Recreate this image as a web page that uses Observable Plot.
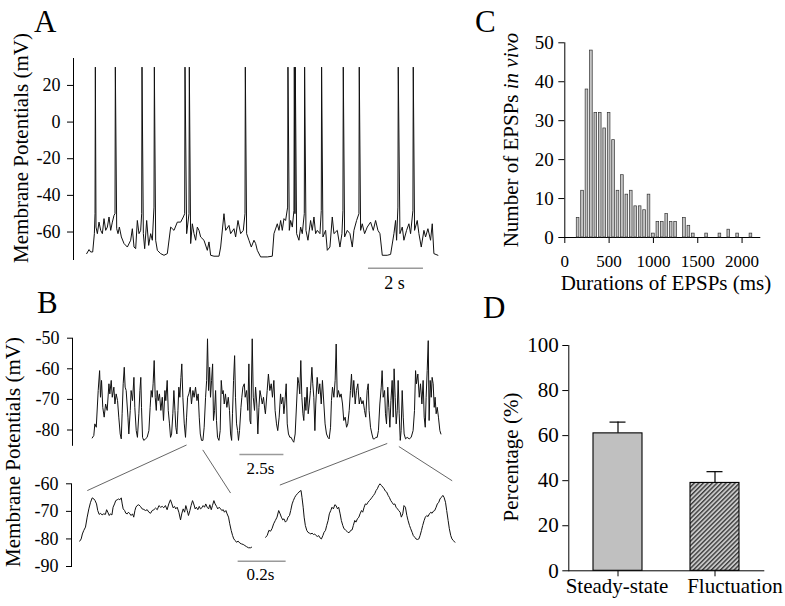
<!DOCTYPE html>
<html><head><meta charset="utf-8">
<script src="https://cdn.jsdelivr.net/npm/d3@7"></script>
<script src="https://cdn.jsdelivr.net/npm/@observablehq/plot@0.6"></script>
<style>
body{margin:0;background:#fff;}
#fig{position:relative;width:785px;height:606px;overflow:hidden;font-family:"Liberation Serif","Times New Roman",serif;}
#fig svg{position:absolute;}
</style></head><body>
<div id="fig">
<svg id="overlay" width="785" height="606" style="left:0;top:0">
<defs>
<pattern id="hatch" width="3.2" height="3.2" patternUnits="userSpaceOnUse" patternTransform="rotate(45)">
<rect width="3.2" height="3.2" fill="#c9c9c9"/>
<line x1="0.7" y1="0" x2="0.7" y2="3.2" stroke="#333" stroke-width="1.3"/>
</pattern>
</defs>
<g font-family="Liberation Serif" fill="#000">
<text x="34" y="32" font-size="31">A</text>
<text x="37" y="313" font-size="31">B</text>
<text x="475" y="32" font-size="31">C</text>
<text x="483" y="318" font-size="31">D</text>
<text transform="translate(28,148) rotate(-90)" text-anchor="middle" font-size="21">Membrane Potentials (mV)</text>
<text transform="translate(20,452) rotate(-90)" text-anchor="middle" font-size="21">Membrane Potentials (mV)</text>
<text transform="translate(518,140) rotate(-90)" text-anchor="middle" font-size="21">Number of EPSPs <tspan font-style="italic">in vivo</tspan></text>
<text x="666" y="290" text-anchor="middle" font-size="21">Durations of EPSPs (ms)</text>
<text transform="translate(518,457) rotate(-90)" text-anchor="middle" font-size="21">Percentage (%)</text>
</g>
</svg>
</div>
<script>
// ---------- Panel A: membrane potential trace [time s, mV] ----------
const traceA = [[0,-71.8],[0.085,-69.6],[0.145,-70.9],[0.218,-70.9],[0.279,-60.9],[0.303,-50.0],[0.315,30],[0.339,-57.3],[0.388,-60.9],[0.448,-54.6],[0.509,-59.1],[0.570,-60.9],[0.630,-52.7],[0.691,-59.1],[0.752,-57.3],[0.812,-51.8],[0.873,-59.1],[0.933,-54.6],[0.994,-50.9],[1.030,-50.0],[1.042,30],[1.091,-58.2],[1.139,-60.9],[1.188,-57.3],[1.261,-62.7],[1.358,-66.3],[1.479,-68.2],[1.600,-64.5],[1.661,-58.2],[1.721,-68.2],[1.782,-69.1],[1.842,-53.7],[1.903,-60.9],[1.964,-59.1],[2.000,-50.0],[2.012,30],[2.061,-60.9],[2.109,-69.1],[2.182,-53.7],[2.255,-67.3],[2.327,-60.9],[2.388,-64.5],[2.448,-46.4],[2.461,30],[2.509,-64.5],[2.570,-70.0],[2.691,-71.8],[2.812,-72.7],[2.933,-71.8],[3.055,-57.3],[3.176,-59.1],[3.297,-54.6],[3.418,-54.6],[3.515,-51.8],[3.564,-50.0],[3.576,30],[3.636,-60.9],[3.721,-50.0],[3.733,30],[3.782,-66.3],[3.842,-55.5],[3.903,-60.9],[3.964,-64.5],[4.024,-57.3],[4.085,-59.1],[4.145,-62.7],[4.267,-64.5],[4.388,-70.0],[4.448,-65.4],[4.509,-72.7],[4.630,-73.2],[4.812,-73.2],[4.873,-68.2],[4.994,-50.0],[5.055,-59.1],[5.176,-56.4],[5.236,-60.9],[5.358,-58.2],[5.418,-62.7],[5.503,-53.7],[5.600,-60.9],[5.697,-59.1],[5.758,-50.0],[5.770,30],[5.818,-60.9],[5.903,-64.5],[5.988,-68.2],[6.085,-64.5],[6.145,-66.3],[6.206,-70.0],[6.327,-73.6],[6.570,-73.6],[6.752,-73.2],[6.812,-60.9],[6.933,-55.5],[6.994,-59.1],[7.055,-53.7],[7.115,-59.1],[7.176,-52.7],[7.236,-53.7],[7.309,-46.4],[7.321,30],[7.370,-59.1],[7.418,-53.7],[7.479,-57.3],[7.539,-48.2],[7.552,30],[7.576,-50.0],[7.588,30],[7.636,-60.9],[7.721,-64.5],[7.782,-57.3],[7.842,-60.9],[7.915,-50.0],[7.927,30],[7.976,-59.1],[8.048,-64.5],[8.145,-53.7],[8.206,-59.1],[8.267,-51.8],[8.327,-60.9],[8.388,-59.1],[8.485,-60.9],[8.533,-48.2],[8.545,30],[8.594,-62.7],[8.691,-59.1],[8.752,-70.0],[8.848,-68.2],[8.933,-51.8],[8.994,-60.9],[9.115,-59.1],[9.212,-68.2],[9.285,-60.9],[9.321,-48.2],[9.333,30],[9.382,-62.7],[9.479,-59.1],[9.576,-60.9],[9.661,-68.2],[9.721,-59.1],[9.818,-53.7],[9.903,-50.0],[9.915,30],[9.964,-59.1],[10.024,-55.5],[10.109,-60.9],[10.206,-57.3],[10.327,-54.6],[10.424,-59.1],[10.509,-53.7],[10.594,-59.1],[10.667,-60.9],[10.752,-72.7],[10.933,-72.7],[11.055,-72.2],[11.176,-60.9],[11.236,-53.7],[11.273,-64.5],[11.321,-46.4],[11.333,30],[11.394,-60.9],[11.479,-57.3],[11.539,-64.5],[11.636,-59.1],[11.721,-55.5],[11.782,-60.9],[11.867,-48.2],[11.879,30],[11.927,-59.1],[12.024,-53.7],[12.085,-60.9],[12.170,-68.2],[12.267,-59.1],[12.327,-62.7],[12.412,-58.2],[12.509,-64.5],[12.570,-55.5],[12.630,-71.8],[12.776,-72.7]];
const ticksA = [-60, -40, -20, 0, 20];

// ---------- Panel B: long trace [time s, mV] ----------
const traceBTop = [[0.00,-82.6],[0.09,-81.8],[0.15,-78.0],[0.23,-79.1],[0.34,-67.1],[0.42,-60.6],[0.47,-69.3],[0.53,-63.8],[0.60,-72.6],[0.68,-75.8],[0.76,-71.5],[0.85,-73.6],[0.95,-64.9],[1.00,-68.2],[1.08,-63.8],[1.14,-69.3],[1.23,-66.0],[1.29,-71.5],[1.36,-68.2],[1.44,-70.4],[1.51,-75.8],[1.59,-81.3],[1.65,-82.9],[1.70,-74.7],[1.76,-64.9],[1.82,-59.5],[1.87,-66.0],[1.93,-67.1],[2.03,-75.8],[2.08,-81.3],[2.16,-73.6],[2.21,-67.1],[2.29,-70.4],[2.37,-62.8],[2.42,-72.6],[2.50,-80.2],[2.57,-82.4],[2.65,-74.7],[2.71,-67.1],[2.76,-62.8],[2.80,-72.6],[2.86,-82.4],[2.93,-83.4],[3.03,-82.9],[3.12,-82.4],[3.22,-80.2],[3.29,-72.6],[3.35,-67.1],[3.41,-69.3],[3.46,-64.9],[3.52,-57.3],[3.58,-69.3],[3.64,-73.6],[3.69,-67.1],[3.75,-70.4],[3.82,-68.2],[3.90,-73.6],[3.98,-69.3],[4.05,-76.9],[4.13,-67.1],[4.18,-70.4],[4.26,-63.8],[4.32,-73.6],[4.39,-78.0],[4.45,-82.4],[4.51,-81.3],[4.58,-74.7],[4.64,-67.1],[4.70,-73.6],[4.75,-79.1],[4.81,-81.3],[4.87,-73.6],[4.92,-66.0],[4.98,-69.3],[5.04,-62.8],[5.09,-58.4],[5.15,-69.3],[5.23,-78.0],[5.30,-82.4],[5.36,-75.8],[5.42,-69.3],[5.49,-68.2],[5.57,-66.0],[5.64,-71.5],[5.72,-67.1],[5.79,-69.3],[5.87,-66.0],[5.95,-70.4],[6.02,-68.2],[6.08,-75.8],[6.14,-81.3],[6.21,-83.4],[6.29,-83.4],[6.36,-79.1],[6.44,-69.3],[6.50,-63.8],[6.55,-50.2],[6.61,-67.1],[6.67,-59.5],[6.72,-69.3],[6.78,-63.8],[6.84,-58.4],[6.89,-76.9],[6.95,-73.6],[7.01,-67.1],[7.06,-76.9],[7.12,-82.4],[7.20,-83.4],[7.27,-80.2],[7.33,-63.8],[7.39,-68.2],[7.44,-67.1],[7.50,-71.5],[7.57,-68.2],[7.65,-72.6],[7.73,-69.3],[7.80,-73.6],[7.86,-81.3],[7.92,-83.4],[7.97,-74.7],[8.03,-63.8],[8.09,-55.7],[8.14,-69.3],[8.20,-78.0],[8.26,-80.2],[8.31,-83.4],[8.37,-80.2],[8.45,-72.6],[8.50,-69.3],[8.56,-66.0],[8.64,-64.9],[8.69,-69.3],[8.77,-67.1],[8.84,-73.6],[8.90,-58.4],[8.96,-76.9],[9.01,-78.0],[9.09,-50.2],[9.15,-69.3],[9.22,-73.6],[9.28,-66.0],[9.35,-71.5],[9.41,-81.3],[9.47,-72.6],[9.53,-67.1],[9.60,-69.3],[9.66,-71.5],[9.73,-69.3],[9.81,-73.6],[9.84,-74.7],[9.94,-67.1],[10.01,-61.7],[10.09,-67.1],[10.17,-64.9],[10.24,-69.3],[10.32,-63.8],[10.39,-73.6],[10.47,-78.0],[10.54,-80.2],[10.62,-75.8],[10.70,-68.2],[10.75,-71.5],[10.83,-69.3],[10.89,-74.7],[10.94,-71.5],[11.02,-64.9],[11.08,-78.0],[11.15,-81.3],[11.23,-82.4],[11.30,-82.4],[11.38,-83.4],[11.45,-84.0],[11.53,-81.3],[11.61,-71.5],[11.68,-62.8],[11.74,-64.9],[11.79,-68.2],[11.85,-57.3],[11.91,-69.3],[11.97,-74.7],[12.02,-76.9],[12.08,-69.3],[12.14,-73.6],[12.21,-66.0],[12.27,-74.7],[12.33,-71.5],[12.40,-67.1],[12.48,-59.5],[12.53,-64.9],[12.59,-69.3],[12.65,-80.2],[12.70,-71.5],[12.78,-62.8],[12.86,-68.2],[12.93,-64.9],[13.01,-71.5],[13.08,-63.8],[13.16,-71.5],[13.23,-78.0],[13.31,-81.3],[13.39,-82.4],[13.46,-82.9],[13.54,-79.1],[13.59,-70.4],[13.65,-66.0],[13.73,-69.3],[13.80,-63.8],[13.86,-51.9],[13.92,-69.3],[13.99,-67.1],[14.07,-69.3],[14.14,-68.2],[14.22,-71.5],[14.29,-76.9],[14.37,-75.8],[14.45,-79.1],[14.52,-78.0],[14.60,-73.6],[14.67,-67.1],[14.73,-61.7],[14.79,-69.3],[14.86,-63.8],[14.94,-71.5],[15.01,-67.1],[15.09,-64.9],[15.17,-71.5],[15.24,-69.3],[15.32,-71.5],[15.39,-70.4],[15.47,-73.6],[15.54,-75.8],[15.62,-67.1],[15.68,-64.9],[15.73,-73.6],[15.81,-79.1],[15.89,-81.3],[15.96,-82.9],[16.04,-82.9],[16.11,-82.4],[16.19,-82.4],[16.26,-80.2],[16.34,-71.5],[16.42,-66.0],[16.47,-60.6],[16.53,-69.3],[16.61,-67.1],[16.66,-74.7],[16.72,-78.0],[16.79,-66.0],[16.85,-72.6],[16.91,-79.1],[16.97,-70.4],[17.04,-63.8],[17.10,-75.8],[17.15,-60.0],[17.21,-69.3],[17.27,-78.0],[17.33,-73.6],[17.38,-63.8],[17.44,-74.7],[17.50,-83.4],[17.55,-80.2],[17.61,-67.1],[17.67,-75.8],[17.72,-81.3],[17.80,-82.9],[17.89,-82.4],[18.01,-82.9],[18.12,-82.4],[18.23,-80.2],[18.31,-73.6],[18.37,-60.6],[18.42,-64.9],[18.50,-61.7],[18.58,-69.3],[18.65,-64.9],[18.73,-71.5],[18.80,-63.8],[18.86,-75.8],[18.92,-79.1],[18.97,-69.3],[19.03,-60.6],[19.09,-50.8],[19.14,-76.9],[19.20,-63.8],[19.26,-69.3],[19.31,-62.8],[19.37,-64.9],[19.43,-72.6],[19.48,-69.3],[19.54,-74.7],[19.60,-72.6],[19.67,-75.8],[19.75,-80.2],[19.81,-81.3]];
const ticksBTop = [-80, -70, -60, -50];

// ---------- Panel B: expanded windows [display time s, mV] ----------
const traceBZoomLeft = [[0.001,-80.8],[0.007,-80.0],[0.012,-78.2],[0.018,-76.9],[0.025,-75.7],[0.032,-72.1],[0.039,-69.1],[0.046,-66.7],[0.053,-65.1],[0.060,-65.5],[0.065,-66.1],[0.071,-67.3],[0.076,-69.7],[0.082,-71.1],[0.088,-70.7],[0.094,-71.3],[0.101,-70.9],[0.108,-71.1],[0.113,-69.4],[0.118,-70.3],[0.124,-71.5],[0.129,-70.9],[0.135,-71.3],[0.140,-68.5],[0.146,-67.3],[0.151,-66.1],[0.157,-65.8],[0.163,-65.5],[0.168,-65.8],[0.174,-65.1],[0.178,-67.3],[0.182,-69.1],[0.188,-69.7],[0.193,-70.7],[0.199,-70.9],[0.204,-70.3],[0.210,-70.9],[0.215,-71.5],[0.221,-70.9],[0.226,-72.1],[0.231,-69.7],[0.235,-68.5],[0.240,-67.9],[0.247,-67.6],[0.254,-68.2],[0.261,-69.1],[0.268,-69.3],[0.275,-69.7],[0.282,-69.4],[0.289,-70.3],[0.296,-70.7],[0.303,-69.7],[0.310,-69.4],[0.317,-68.8],[0.324,-69.4],[0.331,-67.9],[0.338,-68.5],[0.345,-68.2],[0.351,-68.7],[0.358,-67.9],[0.365,-69.4],[0.372,-67.3],[0.379,-65.8],[0.385,-67.3],[0.390,-68.7],[0.396,-68.2],[0.401,-69.1],[0.407,-68.5],[0.414,-70.3],[0.421,-73.1],[0.426,-70.9],[0.432,-69.1],[0.438,-70.3],[0.443,-67.9],[0.449,-69.7],[0.454,-71.5],[0.460,-69.7],[0.465,-67.9],[0.471,-66.1],[0.476,-67.3],[0.482,-69.1],[0.487,-68.5],[0.493,-69.4],[0.499,-68.2],[0.504,-69.1],[0.510,-68.7],[0.515,-67.9],[0.521,-68.5],[0.526,-67.3],[0.532,-68.5],[0.538,-69.1],[0.543,-67.6],[0.549,-69.4],[0.554,-67.9],[0.560,-66.1],[0.565,-67.3],[0.571,-68.2],[0.576,-69.1],[0.582,-68.5],[0.588,-69.1],[0.593,-69.7],[0.599,-69.4],[0.604,-70.3],[0.610,-69.7],[0.615,-70.9],[0.621,-72.1],[0.626,-74.5],[0.632,-76.9],[0.638,-78.8],[0.643,-80.0],[0.649,-80.6],[0.654,-81.2],[0.661,-80.8],[0.668,-81.5],[0.675,-81.8],[0.682,-82.0],[0.689,-82.4],[0.696,-82.8],[0.704,-83.2],[0.713,-83.2],[0.717,-83.0]];
const traceBZoomRight = [[0.775,-79.4],[0.782,-78.8],[0.789,-76.9],[0.796,-77.2],[0.802,-76.3],[0.809,-74.5],[0.816,-73.3],[0.823,-72.1],[0.830,-69.7],[0.836,-70.9],[0.841,-72.1],[0.847,-73.1],[0.852,-72.7],[0.858,-73.9],[0.864,-73.3],[0.869,-72.1],[0.875,-71.5],[0.880,-69.7],[0.886,-67.3],[0.891,-66.1],[0.897,-64.9],[0.902,-64.2],[0.908,-63.6],[0.914,-63.0],[0.919,-62.7],[0.923,-62.4],[0.927,-64.9],[0.932,-68.5],[0.936,-72.1],[0.941,-75.1],[0.947,-76.9],[0.952,-77.6],[0.958,-77.9],[0.964,-78.2],[0.969,-77.9],[0.975,-78.4],[0.980,-78.2],[0.986,-78.8],[0.991,-79.1],[0.997,-78.8],[1.002,-79.6],[1.008,-80.0],[1.014,-78.8],[1.019,-77.6],[1.025,-76.9],[1.030,-75.1],[1.036,-73.3],[1.041,-70.9],[1.047,-69.7],[1.052,-68.5],[1.058,-69.1],[1.064,-67.6],[1.069,-67.9],[1.075,-69.1],[1.080,-68.5],[1.086,-70.9],[1.091,-73.3],[1.097,-75.1],[1.102,-76.3],[1.108,-76.7],[1.114,-77.2],[1.119,-77.7],[1.125,-77.6],[1.130,-76.9],[1.136,-76.7],[1.141,-75.1],[1.147,-73.3],[1.152,-73.9],[1.158,-72.7],[1.164,-72.1],[1.169,-70.9],[1.175,-69.7],[1.180,-70.3],[1.186,-68.5],[1.191,-67.3],[1.197,-67.5],[1.202,-66.7],[1.208,-66.1],[1.214,-65.5],[1.219,-64.9],[1.225,-64.2],[1.230,-63.6],[1.236,-62.4],[1.241,-61.8],[1.247,-60.6],[1.252,-60.0],[1.258,-60.6],[1.264,-61.2],[1.269,-61.8],[1.275,-62.7],[1.280,-63.0],[1.286,-64.2],[1.291,-64.9],[1.297,-66.1],[1.302,-66.7],[1.308,-67.5],[1.314,-67.3],[1.319,-68.5],[1.325,-69.1],[1.330,-69.7],[1.336,-70.3],[1.341,-72.1],[1.347,-70.9],[1.352,-67.9],[1.358,-68.5],[1.364,-71.5],[1.369,-73.3],[1.375,-75.1],[1.380,-76.3],[1.386,-77.6],[1.391,-78.8],[1.397,-79.4],[1.402,-80.0],[1.408,-80.2],[1.414,-80.0],[1.419,-78.8],[1.425,-76.9],[1.430,-75.1],[1.436,-73.3],[1.441,-72.1],[1.447,-71.5],[1.452,-71.9],[1.458,-70.9],[1.464,-70.3],[1.469,-70.7],[1.475,-69.9],[1.480,-69.7],[1.486,-68.5],[1.491,-67.3],[1.497,-66.7],[1.502,-65.5],[1.508,-64.9],[1.514,-64.2],[1.519,-64.9],[1.525,-66.7],[1.530,-69.7],[1.536,-73.3],[1.541,-76.3],[1.547,-78.8],[1.552,-80.0],[1.558,-80.6],[1.564,-81.2]];
const ticksBZoom = [-90, -80, -70, -60];

// ---------- Panel C: histogram of EPSP durations ----------
const durMs =    [150,200,250,300,350,400,450,500,550,600,650,700,750,800,850,900,950,1000,1050,1100,1150,1200,1250,1350,1400,1450,1600,1750,1850,1950,2100];
const durCount = [5,  12, 38, 48, 32, 32, 28, 32, 25, 12, 16, 11, 12, 8,  8,  7,  11, 1,   4,   4,   6,   4,   4,   5,   3,   1,   1,   1,   2,   1,   1];
const ticksCx = [0, 500, 1000, 1500, 2000];
const ticksCy = [0, 10, 20, 30, 40, 50];

// ---------- Panel D: percentage ----------
const dCategories = ["Steady-state", "Fluctuation"];
const dPercent = [61, 39];
const dSE = [5, 5];
const ticksD = [0, 20, 40, 60, 80, 100];

// ---------- drawing ----------
const fig = document.getElementById("fig");
const fmt = d => String(d);
const baseStyle = (size) => ({fontFamily: "Liberation Serif", fontSize: size + "px", color: "#000", background: "transparent", overflow: "visible"});
function place(svg, left, top) {
  svg.style.position = "absolute";
  svg.style.left = left + "px";
  svg.style.top = top + "px";
  svg.style.maxWidth = "none";
  fig.appendChild(svg);
  return svg;
}
const tv = {x: d => d[0], y: d => d[1]};

// A
place(Plot.plot({
  width: 460, height: 300, marginLeft: 73, marginRight: 20, marginTop: 58, marginBottom: 41,
  style: baseStyle(18),
  x: {domain: [-0.48, 12.87], axis: null},
  y: {domain: [-75, 34.7], ticks: ticksA, tickFormat: fmt, tickSize: 6, tickPadding: 7, line: true, label: null},
  marks: [
    Plot.line(traceA, {...tv, stroke: "#111", strokeWidth: 1}),
    Plot.ruleY([{a: 10.25, b: 12.25, v: -79.8}], {x1: "a", x2: "b", y: "v", stroke: "#9a9a9a", strokeWidth: 1.5}),
    Plot.text([{t: 11.2, v: -88, s: "2 s"}], {x: "t", y: "v", text: "s", fontSize: 18})
  ]
}), 0, 0);

// B top (with zoom connectors)
place(Plot.plot({
  width: 460, height: 200, marginLeft: 72, marginRight: 18, marginTop: 37.7, marginBottom: 55.2,
  style: baseStyle(18),
  x: {domain: [-1.12, 19.9], axis: null},
  y: {domain: [-85, -50], ticks: ticksBTop, tickFormat: fmt, tickSize: 5, tickPadding: 8, line: true, label: null},
  marks: [
    Plot.line(traceBTop, {...tv, stroke: "#111", strokeWidth: 1}),
    Plot.link([
      {a: 5.36, b: -84.9, c: -0.28, d: -99.8},
      {a: 6.28, b: -86.5, c: 7.86, d: -100.6},
      {a: 16.76, b: -84.4, c: 10.66, d: -98.0},
      {a: 17.42, b: -85.4, c: 20.45, d: -96.6}
    ], {x1: "a", y1: "b", x2: "c", y2: "d", stroke: "#555", strokeWidth: 0.9}),
    Plot.ruleY([{a: 8.39, b: 10.89, v: -88.0}], {x1: "a", x2: "b", y: "v", stroke: "#9a9a9a", strokeWidth: 1.5}),
    Plot.text([{t: 9.55, v: -92.6, s: "2.5s"}], {x: "t", y: "v", text: "s", fontSize: 17})
  ]
}), 0, 300);

// B bottom (expanded windows)
place(Plot.plot({
  width: 470, height: 146, marginLeft: 71, marginRight: 10, marginTop: 23.3, marginBottom: 40,
  style: baseStyle(18),
  x: {domain: [-0.0333, 1.5875], axis: null},
  y: {domain: [-90, -60], ticks: ticksBZoom, tickFormat: fmt, tickSize: 5, tickPadding: 8, line: true, label: null},
  marks: [
    Plot.line(traceBZoomLeft, {...tv, stroke: "#111", strokeWidth: 1}),
    Plot.line(traceBZoomRight, {...tv, stroke: "#111", strokeWidth: 1}),
    Plot.ruleY([{a: 0.661, b: 0.861, v: -88.1}], {x1: "a", x2: "b", y: "v", stroke: "#9a9a9a", strokeWidth: 1.5}),
    Plot.text([{t: 0.754, v: -92.9, s: "0.2s"}], {x: "t", y: "v", text: "s", fontSize: 17})
  ]
}), 0, 460);

// C histogram
const durData = durMs.map((m, i) => ({ms: m, n: durCount[i]}));
const svgC = place(Plot.plot({
  width: 325, height: 300, marginLeft: 104.3, marginRight: 25.7, marginTop: 42.3, marginBottom: 63,
  style: baseStyle(19),
  x: {domain: [0, 2200], ticks: ticksCx, tickFormat: fmt, tickSize: 6, tickPadding: 11, line: true, label: null},
  y: {domain: [0, 50], ticks: ticksCy, tickFormat: fmt, tickSize: 6, tickPadding: 5, line: true, label: null},
  marks: [
    Plot.rect(durData, {x1: d => d.ms - 15, x2: d => d.ms + 15, y1: 0, y2: "n", fill: "#c4c4c4", stroke: "#333", strokeWidth: 0.7})
  ]
}), 460, 0);
// x tick labels of C are set slightly smaller than its y tick labels, as in the reference
svgC.querySelectorAll('[aria-label^="x-axis"]').forEach(g => { g.style.fontSize = "17px"; });

// D bar chart
const dData = dCategories.map((c, i) => ({cat: c, pct: dPercent[i], se: dSE[i]}));
place(Plot.plot({
  width: 325, height: 306, marginLeft: 108.3, marginRight: 21.7, marginTop: 45, marginBottom: 35.7,
  style: baseStyle(21),
  x: {domain: dCategories, paddingInner: 0.49, paddingOuter: 0.25, tickSize: 6, tickFormat: () => "", line: true, label: null},
  y: {domain: [0, 100], ticks: ticksD, tickFormat: fmt, tickSize: 6, tickPadding: 4, line: true, label: null},
  marks: [
    Plot.ruleX(dData, {x: "cat", y1: "pct", y2: d => d.pct + d.se, stroke: "#000", strokeWidth: 1.2}),
    Plot.tickY(dData, {x: "cat", y: d => d.pct + d.se, insetLeft: 16.5, insetRight: 16.5, stroke: "#000", strokeWidth: 1.2}),
    Plot.barY(dData.filter(d => d.cat === dCategories[0]), {x: "cat", y: "pct", fill: "#c0c0c0", stroke: "#000", strokeWidth: 1.1}),
    Plot.barY(dData.filter(d => d.cat === dCategories[1]), {x: "cat", y: "pct", fill: "url(#hatch)", stroke: "#000", strokeWidth: 1.1}),
    Plot.text(dData.filter(d => d.cat === dCategories[0]), {x: "cat", text: "cat", frameAnchor: "bottom", dy: 22, dx: -1}),
    Plot.text(dData.filter(d => d.cat === dCategories[1]), {x: "cat", text: "cat", frameAnchor: "bottom", dy: 22, dx: 20})
  ]
}), 460, 300);
</script>
</body></html>
